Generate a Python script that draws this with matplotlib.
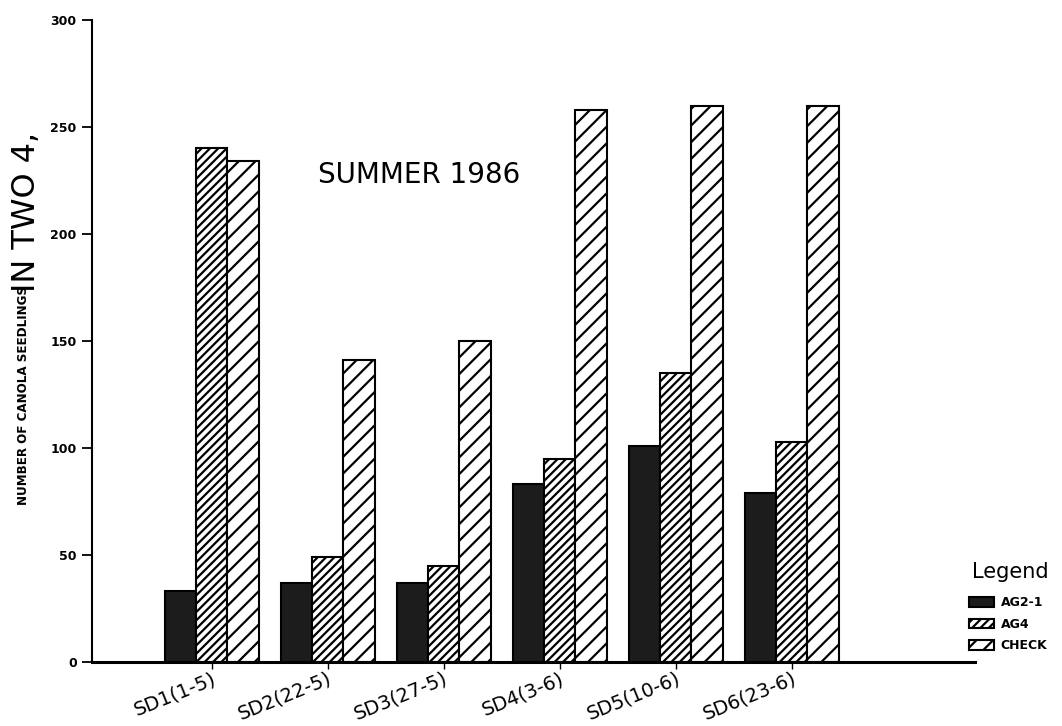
import matplotlib
matplotlib.use("Agg")
import matplotlib.pyplot as plt
import numpy as np

# Seedling counts
dates = ["SD1(1-5)", "SD2(22-5)", "SD3(27-5)", "SD4(3-6)", "SD5(10-6)", "SD6(23-6)"]
ag2_1 = [33, 37, 37, 83, 101, 79]
ag4 = [240, 49, 45, 95, 135, 103]
check = [234, 141, 150, 258, 260, 260]
series_names = ["AG2-1", "AG4", "CHECK"]
y_ticks = [0, 50, 100, 150, 200, 250, 300]

plt.rcParams['hatch.linewidth'] = 1.6

fig = plt.figure(figsize=(10.62, 7.26), dpi=100)
ax = fig.add_axes([92 / 1062, 64 / 726, 883 / 1062, 642 / 726])

x = np.arange(len(dates))
w = 0.27
ax.bar(x - w, ag2_1, w, color="#1c1c1c", edgecolor="black", linewidth=1.5,
       label=series_names[0])
ax.bar(x, ag4, w, color="white", edgecolor="black", linewidth=1.5,
       hatch="////", label=series_names[1])
ax.bar(x + w, check, w, color="white", edgecolor="black", linewidth=1.5,
       hatch="//", label=series_names[2])

ax.set_xlim(-1.03, 6.58)
ax.set_ylim(0, 300)
ax.set_yticks(y_ticks)
ax.set_yticklabels([str(v) for v in y_ticks], fontsize=9, fontweight="bold")
ax.set_xticks(x)
ax.set_xticklabels(dates, rotation=22, ha="right", va="top",
                   rotation_mode="anchor", fontsize=14)
ax.tick_params(axis="y", length=7, width=1.3, pad=4)
ax.tick_params(axis="x", length=5, width=1.0, pad=0)

for side in ["top", "right"]:
    ax.spines[side].set_visible(False)
ax.spines["left"].set_linewidth(1.5)
ax.spines["bottom"].set_linewidth(2.2)

ax.text(0.256, 0.759, "SUMMER 1986", transform=ax.transAxes,
        fontsize=20, ha="left", va="center")

# y label, split as in the original (second part larger, runs off the top)
fig.text(24 / 1062, (726 - 505) / 726, "NUMBER OF CANOLA SEEDLINGS",
         rotation=90, ha="center", va="bottom", fontsize=9.5, fontweight="bold",
         family=["Liberation Sans Narrow", "DejaVu Sans"], fontstretch="condensed")
fig.text(27 / 1062, (726 - 292) / 726, "IN TWO 4,",
         rotation=90, ha="center", va="bottom", fontsize=23)

fig.text(972 / 1062, (726 - 572) / 726, "Legend", fontsize=15,
         ha="left", va="center")
leg = ax.legend(loc="upper left", bbox_to_anchor=(963 / 1062, (726 - 590) / 726),
                bbox_transform=fig.transFigure, frameon=False,
                prop={"size": 9, "weight": "bold"},
                handlelength=2.0, handleheight=0.8, handletextpad=0.5,
                labelspacing=0.68, borderpad=0)

fig.savefig("out.png", dpi=100)
